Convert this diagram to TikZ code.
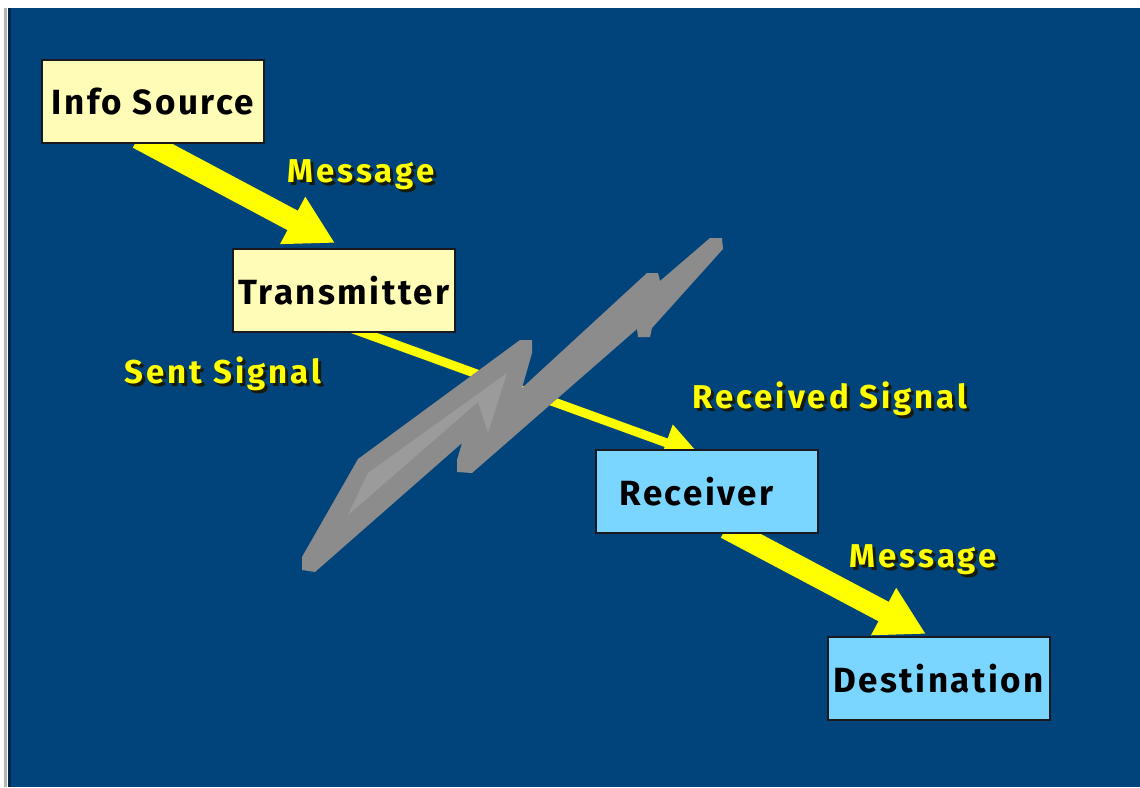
\documentclass[tikz,border=0pt]{standalone}
\usepackage{fontspec}
\setmainfont{Fira Sans}
\newfontfamily\boxfont[LetterSpace=7]{Fira Sans Bold}
\newfontfamily\labfont[LetterSpace=9]{Fira Sans Bold}
\usetikzlibrary{arrows.meta}
\definecolor{bg}{RGB}{0,68,123}
\definecolor{bgedge}{RGB}{0,40,80}
\definecolor{frame}{RGB}{180,180,180}
\definecolor{boxyellow}{RGB}{255,252,184}
\definecolor{boxblue}{RGB}{122,214,255}
\definecolor{boxline}{RGB}{25,25,30}
\definecolor{arrowyellow}{RGB}{255,255,0}
\definecolor{labyellow}{RGB}{255,255,0}
\definecolor{labshadow}{RGB}{25,25,10}
\definecolor{bolt}{RGB}{140,140,140}
\definecolor{boltlight}{RGB}{155,155,155}
\tikzset{
  stagebox/.style={draw=boxline, line width=1pt, minimum width=111pt, minimum height=41.5pt,
    inner sep=0pt, font=\boxfont\fontsize{17.5}{20}\selectfont, text=black},
  ybox/.style={stagebox, fill=boxyellow},
  bbox/.style={stagebox, fill=boxblue},
  fatarrow/.style={draw=arrowyellow, line width=11pt, -{Triangle[length=24pt,width=25pt]}},
  thinarrow/.style={draw=arrowyellow, line width=4.5pt, -{Triangle[length=18pt,width=18pt]}},
  labtext/.style={font=\labfont\fontsize{16.5}{19}\selectfont, text=labyellow, anchor=base, inner sep=0pt},
  labshade/.style={labtext, text=labshadow},
}
\begin{document}
\begin{tikzpicture}[x=0.5pt,y=-0.5pt]
\useasboundingbox (0,0) rectangle (1140,787);
% background
\fill[white] (0,0) rectangle (1140,787);
\fill[frame] (4,8) rectangle (7,787);
\fill[bgedge] (8,8) rectangle (11,787);
\fill[bg] (11,8) rectangle (1140,787);

% connector end points
\coordinate (a1s) at (138,138);
\coordinate (a1e) at (335,243);
\coordinate (a2s) at (342,325);
\coordinate (a2e) at (700,455);
\coordinate (a3s) at (726,528);
\coordinate (a3e) at (926,634);

% arrows
\draw[fatarrow] (a1s) -- (a1e);
\draw[thinarrow] (a2s) -- (a2e);
\draw[fatarrow] (a3s) -- (a3e);

% lightning bolt
\fill[bolt] (302,557) -- (358,459) -- (520,340) -- (532,340) -- (532,353) -- (522,388)
  -- (647,273) -- (658,273) -- (660,281) -- (710,238) -- (722,238) -- (723,249)
  -- (652,328) -- (650,337) -- (638,337) -- (637,329) -- (472,473) -- (457,472)
  -- (457,460) -- (462,443) -- (315,572) -- (302,570) -- cycle;
\fill[boltlight] (348,515) -- (368,473) -- (507,373) -- (488,433) -- (478,402) -- cycle;

% boxes
\node[ybox] (info) at (153,101.5) {Info Source};
\node[ybox] (trans) at (344,290.5) {Transmitter};
\node[bbox] (recv) at (706.5,491.5) {Receiver\kern10pt};
\node[bbox] (dest) at (938.5,678.5) {Destination};

% labels
\node[labshade] at (364,185) {Message};
\node[labtext] (msg1) at (361,182) {Message};
\node[labshade] at (226,386) {Sent Signal};
\node[labtext] (sent) at (223,383) {Sent Signal};
\node[labshade] at (833,411) {Received Signal};
\node[labtext] (rcvd) at (830,408) {Received Signal};
\node[labshade] at (926,570) {Message};
\node[labtext] (msg2) at (923,567) {Message};
\end{tikzpicture}
\end{document}
